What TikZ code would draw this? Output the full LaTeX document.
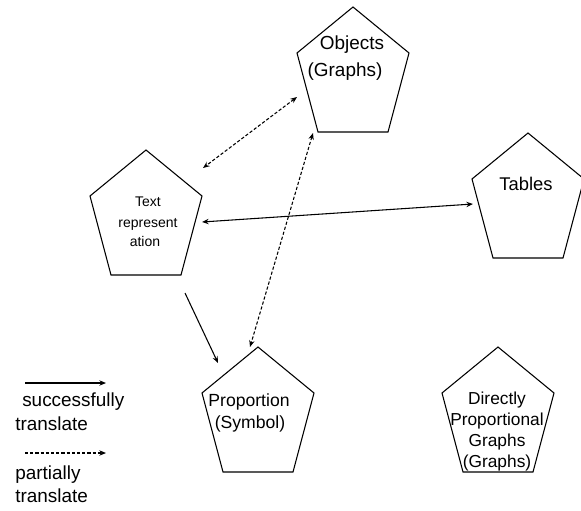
\documentclass[tikz,border=0pt]{standalone}
\usepackage{fontspec}
\setmainfont{Liberation Sans}
\usetikzlibrary{arrows.meta}
\begin{document}
\begin{tikzpicture}[x=0.75pt,y=-0.75pt,
  penta/.style={draw=black,line width=0.8pt,line join=miter},
  lbl/.style={inner sep=0pt,anchor=base},
  lbll/.style={inner sep=0pt,anchor=base west},
  conn/.style={line width=0.8pt,-{Stealth[length=5pt,width=4pt]}},
  bconn/.style={line width=0.8pt,{Stealth[length=5pt,width=4pt]}-{Stealth[length=5pt,width=4pt]}},
  dsh/.style={dash pattern=on 2.4pt off 1.5pt}]
\useasboundingbox (0,0) rectangle (581,510);
% pentagon shape
\tikzset{pent/.pic={\draw[penta] (0,0) -- (56,46) -- (35,125) -- (-35,125) -- (-56,46) -- cycle;}}
\pic at (353,7) {pent};
\pic at (146,150) {pent};
\pic at (528,133) {pent};
\pic at (258,347) {pent};
\pic at (498,347) {pent};
% labels
\node[lbl,font=\fontsize{14.2pt}{17pt}\selectfont] (obj1) at (352,50) {Objects};
\node[lbl,font=\fontsize{14.2pt}{17pt}\selectfont] (obj2) at (345,76) {(Graphs)};
\node[lbl,font=\fontsize{10.5pt}{12pt}\selectfont] (txt1) at (148,206) {Text};
\node[lbl,font=\fontsize{10.5pt}{12pt}\selectfont] (txt2) at (148,227) {represent};
\node[lbl,font=\fontsize{10.5pt}{12pt}\selectfont] (txt3) at (145,246) {ation};
\node[lbl,font=\fontsize{13.8pt}{17pt}\selectfont] (tab1) at (526,190) {Tables};
\node[lbl,font=\fontsize{13.2pt}{16pt}\selectfont] (pro1) at (249,406) {Proportion};
\node[lbl,font=\fontsize{13.2pt}{16pt}\selectfont] (pro2) at (250,428) {(Symbol)};
\node[lbl,font=\fontsize{13pt}{16pt}\selectfont] (dir1) at (497,404) {Directly};
\node[lbl,font=\fontsize{13pt}{16pt}\selectfont] (dir2) at (497,425) {Proportional};
\node[lbl,font=\fontsize{13pt}{16pt}\selectfont] (dir3) at (497,446) {Graphs};
\node[lbl,font=\fontsize{13pt}{16pt}\selectfont] (dir4) at (497,467) {(Graphs)};
% connector end points
\coordinate (oA) at (297,97);
\coordinate (tA) at (203,168);
\coordinate (oB) at (313,133);
\coordinate (pB) at (250,347);
\coordinate (tC) at (202,222);
\coordinate (tbC) at (473,204);
\coordinate (tD) at (185,293);
\coordinate (pD) at (218,363);
\draw[bconn,dsh] (oA) -- (tA);
\draw[bconn,dsh] (oB) -- (pB);
\draw[bconn] (tC) -- (tbC);
\draw[conn] (tD) -- (pD);
% legend
\coordinate (l1a) at (25,383);
\coordinate (l1b) at (106,383);
\coordinate (l2a) at (25,453);
\coordinate (l2b) at (106,453);
\draw[conn] (l1a) -- (l1b);
\draw[conn,dsh] (l2a) -- (l2b);
\node[lbll,font=\fontsize{14.2pt}{17pt}\selectfont] (lg1) at (22,406) {successfully};
\node[lbll,font=\fontsize{14.2pt}{17pt}\selectfont] (lg2) at (15,430) {translate};
\node[lbll,font=\fontsize{14.2pt}{17pt}\selectfont] (lg3) at (15,479) {partially};
\node[lbll,font=\fontsize{14.2pt}{17pt}\selectfont] (lg4) at (15,502) {translate};
\end{tikzpicture}
\end{document}
